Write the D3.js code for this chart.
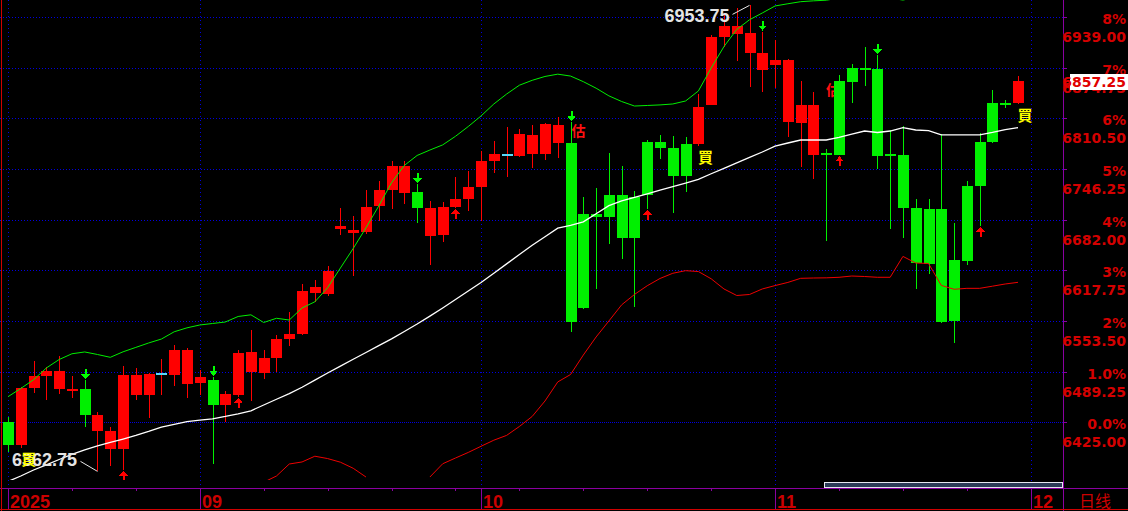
<!DOCTYPE html>
<html><head><meta charset="utf-8">
<script src="https://cdn.jsdelivr.net/npm/d3@7"></script>
<style>html,body{margin:0;padding:0;background:#000;overflow:hidden}</style>
</head><body>
<svg id="c" width="1128" height="511"></svg>
<script>
// ---------- data ----------
const opens  = [6425.75,6396.25,6469,6484,6467.25,6465,6467.25,6414.25,6391,6391,6459.5,6459.5,6486,6485,6474,6474.5,6478.5,6447,6459.5,6488.75,
6487.5,6507,6530.5,6537.5,6589,6588,6670.5,6665.5,6666.75,6699.75,6719.5,6715.75,6717,6661.75,6662.5,6698,6708.25,6723.5,6756.5,6763.5,
6762.75,6765.25,6765.25,6779.25,6779.25,6689.25,6689.25,6713.25,6713.25,6710.75,6780.5,6780.5,6773,6778,6778.25,6827.75,6913.5,6917.75,6893.75,6872.25,
6878.5,6806.25,6805,6764.5,6765.25,6857.75,6874.25,6873.25,6873,6764.25,6764,6696.75,6695.5,6695.5,6630.75,6724.75,6780.5,6830,6829,6830];
const highs  = [6432,6470,6502.75,6495.5,6509,6484,6478.5,6438.5,6418.75,6496.5,6494.25,6487.5,6505.25,6523,6518.75,6491.25,6482.75,6464.75,6516.75,6542,
6516.75,6535.75,6565,6600.5,6605.5,6623.5,6696.75,6686.5,6719.5,6731,6756.5,6756.5,6727.25,6705.25,6704.5,6736,6743.75,6769,6781.75,6799.5,
6797,6802,6804,6812.25,6806,6710.75,6722,6766.5,6750,6718.25,6783,6789.5,6788,6786.75,6841.5,6916.5,6944.5,6951,6953.75,6920.5,
6909.75,6886,6857.75,6844,6771.5,6865.5,6879.5,6901,6890.75,6795.75,6800.75,6708.25,6708.25,6790.5,6677.75,6731,6792,6846.5,6833.75,6864.25];
const lows   = [6387.75,6392,6461.75,6453.25,6461,6456.25,6419.5,6362.75,6369.5,6365,6453.25,6430.75,6459.5,6471,6456.25,6459.5,6372,6425.75,6457,6452,
6480,6488.75,6522,6535.75,6578,6585.5,6662.25,6611,6664.25,6680.25,6695.5,6702.25,6678,6624.5,6654,6696.75,6693,6680.25,6741.25,6736,
6761,6747.5,6757.75,6760.25,6540,6569,6593.75,6651.5,6632.5,6571.5,6695.5,6759.25,6690.75,6717.5,6775.75,6827,6901.25,6883.5,6850.5,6844.25,
6849.25,6786.5,6749.25,6734,6655.25,6763.5,6830.25,6852,6746.5,6670.5,6659,6594.5,6613.5,6551.25,6525.25,6625,6674,6778.75,6824,6828.75];
const closes = [6396.25,6468,6484,6490,6490,6467.25,6434.25,6434.25,6414.25,6485,6485,6486.5,6486,6516.75,6516.75,6482.5,6447,6461,6512.5,6514.25,
6506.25,6530.5,6537.5,6591.5,6596.5,6617,6674,6669,6698,6719.5,6750.5,6750.5,6697.25,6696.75,6698,6708.25,6723.5,6756.5,6765.25,6763.5,
6790.5,6789.5,6803.25,6802,6552.5,6570.25,6685.75,6685.75,6659,6659,6713.5,6773.25,6737.75,6737.75,6825,6913.5,6927.5,6927.5,6918.75,6893.75,
6884.5,6884.5,6827.5,6827.5,6765,6764.5,6857,6873,6763,6764,6697.25,6627.5,6626,6552.5,6554,6630,6725,6781,6828.75,6857.25];

// Bollinger bands (upper / middle / lower)
const bandUpper = [6457.5,6467.9,6479,6493.9,6504.6,6511.9,6514.2,6511,6507.4,6514.4,6520,6525.6,6530.6,6539.8,6544.8,6548.4,6550.3,6552.2,6559.2,6561.3,
6551.6,6556.9,6554.7,6570,6577.8,6595.7,6620.7,6645.4,6671.7,6699.3,6728.8,6750.7,6763.4,6770.3,6776.8,6787.7,6800.1,6813.5,6828.7,6841.3,
6852.5,6858.7,6863.6,6866.5,6864.1,6857,6848.7,6839,6831.8,6826.1,6826.8,6827.5,6828.7,6832.5,6845.2,6874.3,6901.5,6923.2,6935.5,6944.1,
6953,6955.8,6958.4,6959.5,6960.3,6963,6965,6966,6965,6963,6960.5,6964,null,null,null,null,null,null,null,null];
const bandMid = [6350,6356.9,6364.5,6370.9,6377.8,6384.2,6389.9,6395.2,6399.5,6403.8,6408.4,6413.5,6419,6422.5,6425.8,6427.7,6429.4,6432.4,6435.8,6439.6,
6446.9,6454.2,6461.4,6469.5,6478.4,6487.5,6496.3,6504.9,6513.5,6522.3,6530.8,6540.2,6549.7,6559.7,6570,6580.7,6591.5,6602.2,6614,6625.9,
6637.8,6649.6,6660.3,6671.2,6674.7,6679.2,6689.4,6699.8,6705.9,6710.4,6714.8,6719.4,6723.8,6728.4,6733.2,6740.2,6747.1,6754,6761,6767.8,
6775.2,6779.2,6783,6783,6783,6786.2,6790.6,6794.4,6792.5,6794.4,6798.6,6795.7,6794.8,6789.4,6789.4,6789.4,6789.4,6792.6,6796.3,6798.6];
const bandLower = [null,null,null,null,null,null,null,null,null,null,null,null,null,null,null,null,null,null,null,null,
6349,6356.9,6372.1,6374.7,6382,6379,6374.4,6366.7,6355.6,null,null,null,null,6355.6,6372.4,6379.7,6386.8,6394.6,6402.3,6408.4,
6419.7,6432.4,6452,6476.2,6485.6,6510.3,6533.2,6553.5,6574,6587.1,6598.2,6607.4,6614,6617.3,6616.2,6607,6594.1,6585.8,6587.1,6594.1,
6598.4,6602.4,6607.6,6608,6608.2,6608.9,6610.5,6609.9,6608.9,6608.9,6635.4,6627,6626.4,6598.6,6593.7,6594.9,6594.9,6597.6,6600.4,6602.5];

// axis ticks
const tickPrices = [6425.00,6489.25,6553.50,6617.75,6682.00,6746.25,6810.50,6874.75,6939.00];
const tickPriceLabels = ["6425.00","6489.25","6553.50","6617.75","6682.00","6746.25","6810.50","6874.75","6939.00"];
const tickPctLabels = ["0.0%","1.0%","2%","3%","4%","5%","6%","7%","8%"];
const monthIdx = [0,15,37,60,80];
const monthLabels = ["2025","09","10","11","12"];
const minorTickIdx = [5,10,15,20,25,30,35,40,45,50,55,60,65,70,75,80];

// signals
const sellArrows = [6,16,32,44,59,68];      // green down arrows above high
const buyArrows = [9,18,35,50,65,76];       // red up arrows below low
const buyMarks = [1,54,79];                 // 買 below low
const estMarks = [44,65];                   // 估
const lastPrice = 6857.25;
const lastPriceLabel = "6857.25";
const hiIdx = 58, hiLabel = "6953.75";
const loIdx = 7,  loLabel = "6362.75";

// ---------- drawing ----------
const W = 1128, H = 511, plotR = 1063, plotB = 480;
const svg = d3.select("#c");
svg.append("rect").attr("width", W).attr("height", H).attr("fill", "#000");

const x = d3.scaleLinear().domain([0, 80]).range([8, 1030.8]);
const y = d3.scaleLinear().domain([6425, 6939]).range([422.3, 17]);

svg.append("defs").append("clipPath").attr("id", "plot")
  .append("rect").attr("x", 0).attr("y", 0).attr("width", plotR).attr("height", plotB);

const px = v => Math.round(v) + 0.5;

// grid
const grid = svg.append("g").attr("shape-rendering", "crispEdges");
tickPrices.forEach((p, k) => {
  grid.append("line").attr("x1", 0).attr("x2", plotR).attr("y1", px(y(p))).attr("y2", px(y(p)))
    .attr("stroke", k === 0 ? "#0000d8" : "#0000e0").attr("stroke-dasharray", k === 0 ? "1,1" : "1,2");
});
monthIdx.forEach(i => {
  grid.append("line").attr("x1", px(x(i))).attr("x2", px(x(i))).attr("y1", 0).attr("y2", plotB + 7)
    .attr("stroke", "#0000e0").attr("stroke-dasharray", "1,3");
});

const plot = svg.append("g").attr("clip-path", "url(#plot)");

// 估 labels (behind candles)
const estG = plot.append("g");
estMarks.forEach(i => {
  const tx = i === 44 ? x(i) + 1 : x(i) - 13;
  const ty = i === 44 ? y(highs[i]) + 14 : y(highs[i]) + 20;
  estG.append("text").attr("x", tx).attr("y", ty).text("估")
    .attr("fill", "#ff1010").attr("font-family", "Noto Sans CJK SC").attr("font-size", 14).attr("font-weight", "bold");
});

// candles
const cg = plot.append("g").attr("shape-rendering", "crispEdges");
d3.range(opens.length).forEach(i => {
  const o = opens[i], c = closes[i], hi = highs[i], lo = lows[i];
  const up = c > o, flat = c === o;
  const col = up ? "#ff0000" : (flat ? "#ff0000" : "#00f000");
  const cx = Math.round(x(i));
  cg.append("line").attr("x1", cx + 0.5).attr("x2", cx + 0.5).attr("y1", y(hi)).attr("y2", y(lo))
    .attr("stroke", col).attr("stroke-width", 1);
  const top = y(Math.max(o, c)), bot = y(Math.min(o, c));
  const h = Math.max(bot - top, 2);
  cg.append("rect").attr("x", cx - 5).attr("y", flat || h <= 2 ? (top + bot) / 2 - 1 : top)
    .attr("width", 11).attr("height", h)
    .attr("fill", flat ? "#58d8f8" : col);
});

// bands
const line = d3.line().defined(d => d != null).x((d, i) => x(i)).y(d => y(d));
plot.append("path").datum(bandUpper).attr("d", line).attr("fill", "none").attr("stroke", "#00ee00").attr("stroke-width", 1);
plot.append("path").datum(bandMid).attr("d", line).attr("fill", "none").attr("stroke", "#ffffff").attr("stroke-width", 1.3);
plot.append("path").datum(bandLower).attr("d", line).attr("fill", "none").attr("stroke", "#ee0000").attr("stroke-width", 1);

// arrows
const ag = plot.append("g").attr("shape-rendering", "crispEdges");
sellArrows.forEach(i => {
  const cx = Math.round(x(i)) + 0.5, t = y(highs[i]) - 1;
  ag.append("rect").attr("x", cx - 1).attr("y", t - 10).attr("width", 2).attr("height", 6).attr("fill", "#00ff00");
  ag.append("path").attr("d", `M${cx - 4.5},${t - 5}L${cx + 4.5},${t - 5}L${cx},${t}Z`).attr("fill", "#00ff00");
});
buyArrows.forEach(i => {
  const cx = Math.round(x(i)) + 0.5, t = y(lows[i]) + 1;
  ag.append("rect").attr("x", cx - 1).attr("y", t + 4).attr("width", 2).attr("height", 6).attr("fill", "#ff0000");
  ag.append("path").attr("d", `M${cx - 4.5},${t + 5}L${cx + 4.5},${t + 5}L${cx},${t}Z`).attr("fill", "#ff0000");
});

// high / low labels
const lblFont = "Liberation Sans";
{
  const hx = x(hiIdx), hy = y(highs[hiIdx]);
  plot.append("line").attr("x1", hx - 17).attr("y1", hy + 9).attr("x2", hx).attr("y2", hy).attr("stroke", "#e8e8e8");
  plot.append("text").attr("x", hx - 20).attr("y", hy + 17).attr("text-anchor", "end").text(hiLabel)
    .attr("fill", "#e4e4e4").attr("font-family", lblFont).attr("font-weight", "bold").attr("font-size", 18);
  const lx = x(loIdx), ly = y(lows[loIdx]);
  plot.append("line").attr("x1", lx - 17).attr("y1", ly - 10).attr("x2", lx).attr("y2", ly).attr("stroke", "#e8e8e8");
  plot.append("text").attr("x", lx - 20.5).attr("y", ly - 5).attr("text-anchor", "end").text(loLabel)
    .attr("fill", "#e4e4e4").attr("font-family", lblFont).attr("font-weight", "bold").attr("font-size", 18);
}

// 買 marks
buyMarks.forEach(i => {
  plot.append("text").attr("x", x(i) + (i === 1 ? 8 : 7)).attr("y", y(lows[i]) + 17).attr("text-anchor", "middle").text("買")
    .attr("fill", "#ffff00").attr("font-family", "Noto Sans CJK TC").attr("font-weight", "bold").attr("font-size", 15);
});

// right axis
const ax = svg.append("g").attr("shape-rendering", "crispEdges");
const axisCol = "#d40000";
tickPrices.forEach((p, k) => {
  const gy = px(y(p));
  ax.append("line").attr("x1", plotR).attr("x2", plotR + 4).attr("y1", gy).attr("y2", gy).attr("stroke", "#8a00a0");
  svg.append("text").attr("x", 1126).attr("y", gy + 6).attr("text-anchor", "end").text(tickPctLabels[k])
    .attr("fill", axisCol).attr("font-family", "DejaVu Sans").attr("font-weight", "bold").attr("font-size", 14);
  svg.append("text").attr("x", 1126).attr("y", gy + 24).attr("text-anchor", "end").text(tickPriceLabels[k])
    .attr("fill", axisCol).attr("font-family", "DejaVu Sans").attr("font-weight", "bold").attr("font-size", 14);
});
// last price tag
{
  const ly = y(lastPrice);
  svg.append("rect").attr("x", 1070).attr("y", Math.round(ly) - 7).attr("width", 58).attr("height", 16).attr("fill", "#ffffff");
  svg.append("text").attr("x", 1126).attr("y", Math.round(ly) + 6).attr("text-anchor", "end").text(lastPriceLabel)
    .attr("fill", "#e00000").attr("font-family", "DejaVu Sans").attr("font-weight", "bold").attr("font-size", 14);
}

// frame lines
ax.append("line").attr("x1", plotR + 0.5).attr("x2", plotR + 0.5).attr("y1", 0).attr("y2", H).attr("stroke", "#8a00a0");
ax.append("line").attr("x1", 0).attr("x2", W).attr("y1", 488.5).attr("y2", 488.5).attr("stroke", "#8a00a0");
ax.append("line").attr("x1", 0).attr("x2", W).attr("y1", 509.5).attr("y2", 509.5).attr("stroke", "#d00000");
ax.append("line").attr("x1", 1.5).attr("x2", 1.5).attr("y1", 0).attr("y2", H).attr("stroke", "#d00000");

// bottom axis
minorTickIdx.forEach(i => {
  ax.append("line").attr("x1", px(x(i))).attr("x2", px(x(i))).attr("y1", 488).attr("y2", 491).attr("stroke", "#8a00a0");
});
monthIdx.forEach((i, k) => {
  ax.append("line").attr("x1", px(x(i))).attr("x2", px(x(i))).attr("y1", 488).attr("y2", 509).attr("stroke", "#8a00a0");
  svg.append("text").attr("x", px(x(i)) + 1.5).attr("y", 507.5).text(monthLabels[k])
    .attr("fill", "#cc0000").attr("font-family", "Liberation Sans").attr("font-weight", "bold").attr("font-size", 18);
});
svg.append("text").attr("x", 1079).attr("y", 507).text("日线")
  .attr("fill", "#cc0000").attr("font-family", "Noto Sans CJK SC").attr("font-size", 16);

// scrollbar
svg.append("rect").attr("x", 824.5).attr("y", 482.5).attr("width", 238).attr("height", 5)
  .attr("fill", "#2c3c58").attr("stroke", "#e8e8f0").attr("stroke-width", 1).attr("shape-rendering", "crispEdges");
</script>
</body></html>
